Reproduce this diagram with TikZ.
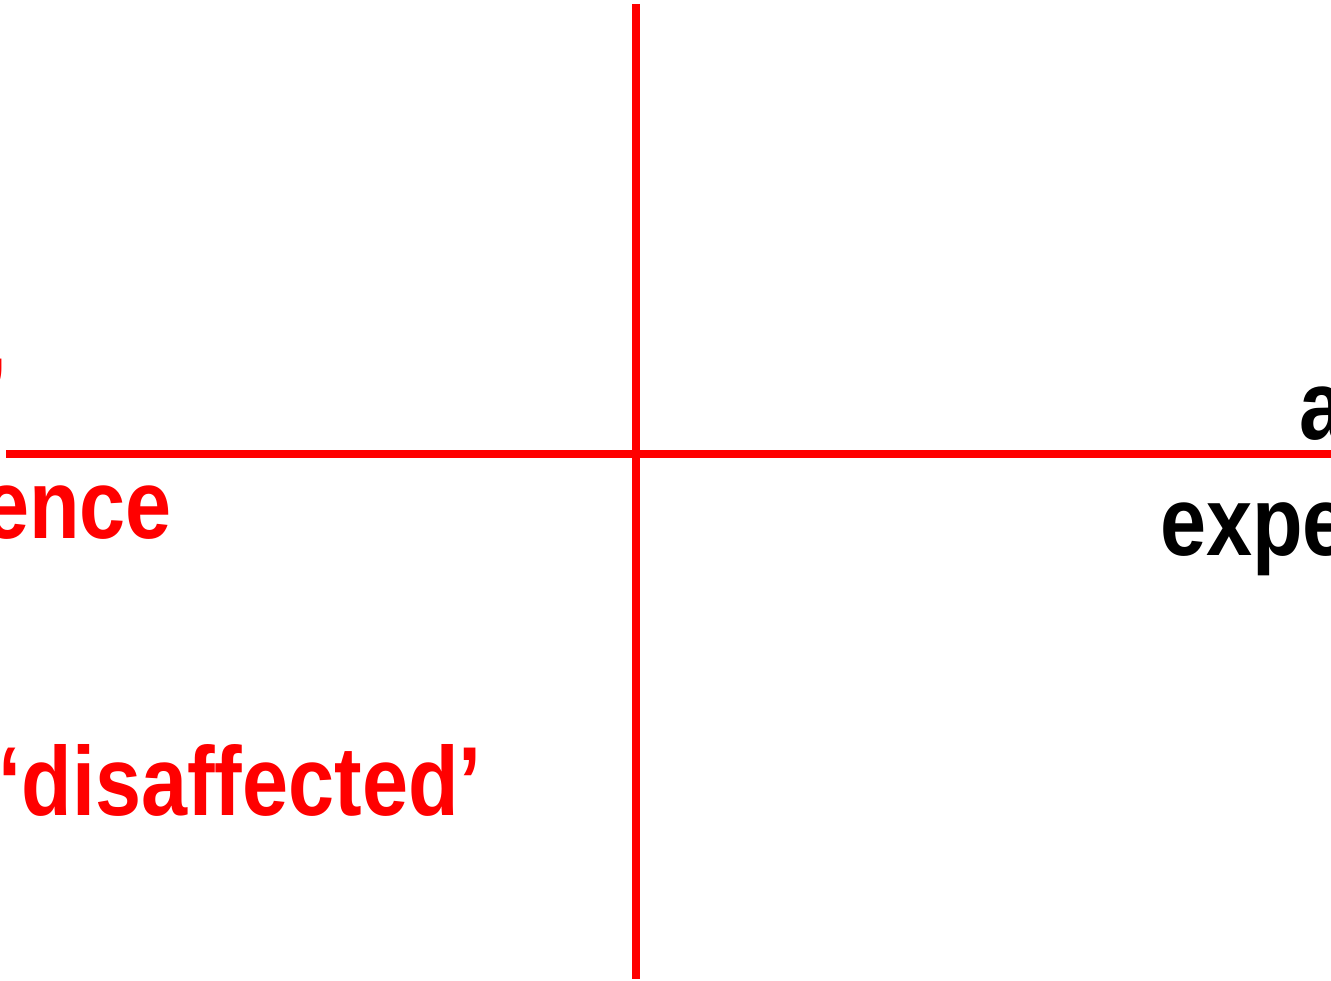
\documentclass[tikz,border=0pt]{standalone}
\usepackage{fontspec}
\newfontfamily\nf{Liberation Sans}[FakeStretch=0.845]
\definecolor{axred}{RGB}{255,0,0}
\begin{document}
\begin{tikzpicture}[x=1pt,y=-1pt,
  axis/.style={draw=axred,line width=7.5pt},
  lbl/.style={inner sep=0pt,font=\nf\bfseries\fontsize{98}{100}\selectfont},
  redlbl/.style={lbl,text=axred},
  blklbl/.style={lbl,text=black}]
\useasboundingbox (0,0) rectangle (1331,981);
\clip (0,0) rectangle (1331,981);
\coordinate (vt) at (636,4);
\coordinate (vb) at (636,979);
\coordinate (hl) at (6,454);
\coordinate (hr) at (1340,454);
\draw[axis] (vt) -- (vb);
\draw[axis] (hl) -- (hr);
\node[redlbl,anchor=base east] (q) at (8,427) {’};
\node[redlbl,anchor=base east] (ence) at (172,538) {ence};
\node[redlbl,anchor=base east] (dis) at (482,815) {‘disaffected’};
\node[blklbl,anchor=base west] (a) at (1299,439) {a};
\node[blklbl,anchor=base west] (expe) at (1160,555) {expe};
\end{tikzpicture}
\end{document}
